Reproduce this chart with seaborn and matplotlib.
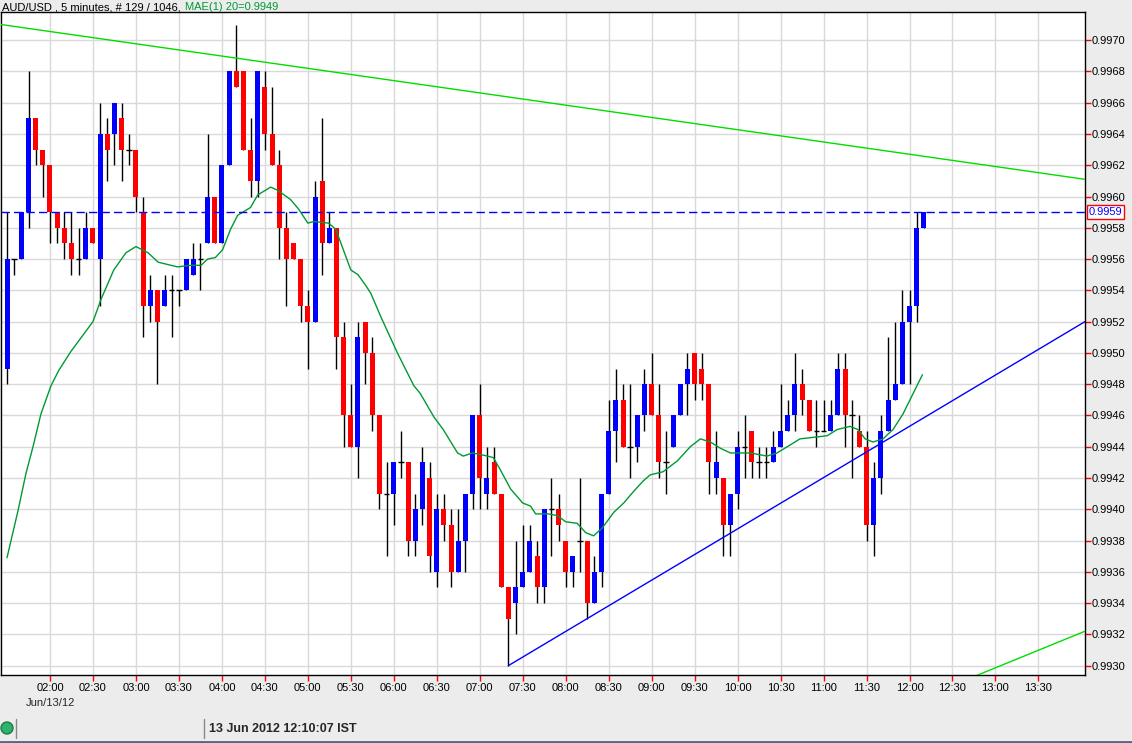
import numpy as np
import matplotlib
matplotlib.use("Agg")
import matplotlib.pyplot as plt
import seaborn as sns
from matplotlib.patches import Circle
from matplotlib.lines import Line2D
from matplotlib.transforms import blended_transform_factory, IdentityTransform

# AUD/USD 5 minute candles, 01:30 .. 12:10 (129 bars)
opens = [.9949, .9956, .9956, .9959, .9965, .9963, .9962, .9959, .9958, .9957,
         .9956, .9956, .9958, .9956, .9964, .9964, .9965, .9963, .9963, .9959,
         .9953, .9954, .9953, .9954, .9954, .9954, .9955, .9956, .9957, .9960,
         .9957, .9962, .9968, .9968, .9963, .9961, .9967, .9964, .9962, .9958,
         .9957, .9956, .9953, .9952, .9961, .9957, .9958, .9951, .9946, .9944,
         .9952, .9950, .9946, .9941, .9941, .9943, .9943, .9938, .9940, .9942,
         .9936, .9940, .9939, .9936, .9938, .9941, .9946, .9941, .9943, .9941,
         .9935, .9934, .9935, .9936, .9937, .9935, .9940, .9940, .9938, .9936,
         .9938, .9938, .9934, .9936, .9941, .9945, .9947, .9944, .9944, .9946,
         .9948, .9946, .9943, .9944, .9946, .9948, .9950, .9949, .9948, .9942,
         .9942, .9939, .9941, .9944, .9945, .9943, .9943, .9943, .9944, .9945,
         .9946, .9948, .9947, .9945, .9945, .9945, .9946, .9949, .9946, .9945,
         .9944, .9939, .9942, .9945, .9947, .9948, .9952, .9953, .9958]
highs = [.9959, .9956, .9959, .9968, .9965, .9963, .9962, .9959, .9959, .9959,
         .9958, .9959, .9958, .9966, .9965, .9966, .9966, .9964, .9963, .9960,
         .9955, .9954, .9955, .9955, .9954, .9956, .9957, .9957, .9964, .9960,
         .9962, .9968, .9971, .9968, .9965, .9968, .9968, .9967, .9963, .9959,
         .9957, .9956, .9954, .9961, .9965, .9959, .9958, .9952, .9948, .9952,
         .9952, .9951, .9946, .9943, .9943, .9945, .9943, .9941, .9944, .9943,
         .9941, .9941, .9940, .9940, .9941, .9946, .9948, .9944, .9944, .9941,
         .9935, .9938, .9939, .9939, .9938, .9940, .9942, .9941, .9938, .9937,
         .9942, .9938, .9937, .9941, .9947, .9949, .9948, .9948, .9946, .9949,
         .9950, .9948, .9945, .9946, .9948, .9950, .9950, .9950, .9948, .9945,
         .9942, .9941, .9945, .9946, .9945, .9944, .9944, .9945, .9948, .9947,
         .9950, .9949, .9947, .9947, .9947, .9947, .9950, .9950, .9947, .9946,
         .9945, .9943, .9946, .9951, .9952, .9954, .9954, .9959, .9959]
lows = [.9948, .9955, .9956, .9958, .9962, .9960, .9957, .9957, .9956, .9955,
        .9955, .9956, .9957, .9953, .9961, .9962, .9961, .9962, .9959, .9951,
        .9952, .9948, .9953, .9951, .9953, .9954, .9955, .9954, .9957, .9957,
        .9957, .9962, .9967, .9963, .9960, .9960, .9963, .9962, .9956, .9953,
        .9956, .9952, .9949, .9952, .9955, .9957, .9949, .9944, .9944, .9942,
        .9948, .9945, .9940, .9937, .9939, .9942, .9937, .9937, .9939, .9936,
        .9935, .9938, .9935, .9936, .9936, .9940, .9940, .9940, .9941, .9935,
        .9930, .9932, .9935, .9936, .9934, .9934, .9937, .9938, .9935, .9935,
        .9936, .9933, .9934, .9935, .9941, .9943, .9944, .9942, .9943, .9945,
        .9946, .9942, .9941, .9944, .9946, .9946, .9947, .9947, .9941, .9941,
        .9937, .9937, .9940, .9942, .9942, .9942, .9942, .9943, .9944, .9945,
        .9945, .9946, .9945, .9944, .9945, .9945, .9946, .9944, .9942, .9944,
        .9938, .9937, .9941, .9945, .9947, .9948, .9948, .9952, .9958]
closes = [.9956, .9956, .9959, .9965, .9963, .9962, .9959, .9958, .9957, .9956,
          .9956, .9958, .9957, .9964, .9963, .9966, .9963, .9963, .9960, .9953,
          .9954, .9952, .9954, .9954, .9954, .9956, .9956, .9956, .9960, .9957,
          .9962, .9968, .9967, .9963, .9961, .9968, .9964, .9962, .9958, .9956,
          .9956, .9953, .9952, .9960, .9957, .9958, .9951, .9946, .9944, .9951,
          .9950, .9946, .9941, .9941, .9943, .9943, .9938, .9940, .9943, .9937,
          .9940, .9939, .9936, .9938, .9941, .9946, .9942, .9942, .9941, .9935,
          .9933, .9935, .9936, .9938, .9935, .9940, .9940, .9939, .9936, .9937,
          .9938, .9934, .9936, .9941, .9945, .9947, .9944, .9944, .9946, .9948,
          .9946, .9943, .9943, .9946, .9948, .9949, .9948, .9948, .9943, .9943,
          .9939, .9941, .9944, .9944, .9943, .9943, .9943, .9944, .9945, .9946,
          .9948, .9947, .9945, .9945, .9945, .9946, .9949, .9946, .9946, .9944,
          .9939, .9942, .9945, .9947, .9948, .9952, .9953, .9958, .9959]

# MAE(1) 20 line (bar position, price)
ma_pos = [0, 0.56, 1.53, 2.65, 3.63, 4.74, 6.14, 7.25, 8.93, 12.0, 13.1, 14.9,
          16.6, 18.0, 19.7, 21.1, 23.8, 25.7, 27.1, 28.0, 29.1, 30.1, 31.2,
          32.2, 34.0, 35.0, 36.8, 37.8, 39.6, 40.7, 42.0, 42.8, 44.9, 45.9,
          48.0, 49.0, 50.1, 50.8, 52.2, 54.5, 56.8, 57.7, 59.6, 60.9, 62.9,
          63.7, 65.0, 67.1, 67.9, 68.9, 70.3, 72.0, 73.1, 73.8, 75.6, 76.8,
          78.0, 79.6, 80.8, 81.9, 83.1, 84.7, 86.1, 87.4, 88.8, 89.8, 91.6,
          93.6, 95.4, 96.8, 98.2, 99.6, 101.0, 103.8, 106.1, 107.5, 109.3,
          110.7, 112.6, 114.5, 115.9, 117.7, 118.8, 119.8, 120.9, 122.3,
          123.7, 125.1, 126.5, 127.8]
ma_val = [.99369, .99380, .99399, .99423, .99440, .99461, .99479, .99489,
          .99501, .99520, .99534, .99553, .99564, .99568, .99564, .99558,
          .99555, .99556, .99556, .99560, .99561, .99566, .99579, .99588,
          .99593, .99601, .99606, .99604, .99598, .99592, .99583, .99584,
          .99583, .99579, .99553, .99550, .99543, .99538, .99523, .99500,
          .99479, .99474, .99459, .99451, .99436, .99434, .99436, .99434,
          .99433, .99425, .99413, .99404, .99402, .99397, .99397, .99396,
          .99392, .99391, .99385, .99383, .99388, .99398, .99404, .99411,
          .99418, .99422, .99424, .99431, .99440, .99445, .99443, .99439,
          .99436, .99436, .99434, .99436, .99441, .99445, .99446, .99447,
          .99451, .99453, .99451, .99445, .99443, .99445, .99451, .99461,
          .99474, .99486]

# trend lines (bar position, price)
upper_pos = [-0.84, 150.5]
upper_val = [0.99710, 0.99611]
lower_pos = [135.0, 150.5]
lower_val = [0.99293, 0.99322]
support_pos = [70, 150.5]
support_val = [0.99300, 0.99520]

last_price = 0.9959
time_labels = ["02:00", "02:30", "03:00", "03:30", "04:00", "04:30", "05:00",
               "05:30", "06:00", "06:30", "07:00", "07:30", "08:00", "08:30",
               "09:00", "09:30", "10:00", "10:30", "11:00", "11:30", "12:00",
               "12:30", "13:00", "13:30"]
price_ticks = [0.9930, 0.9932, 0.9934, 0.9936, 0.9938, 0.9940, 0.9942, 0.9944,
               0.9946, 0.9948, 0.9950, 0.9952, 0.9954, 0.9956, 0.9958, 0.9960,
               0.9962, 0.9964, 0.9966, 0.9968, 0.9970]

sns.set_style("white")
plt.rcParams['font.family'] = ['Liberation Sans', 'DejaVu Sans']
FS = 8

o = np.array(opens); h = np.array(highs); l = np.array(lows); c = np.array(closes)
idx = np.arange(len(o))
up = c > o + 1e-7
down = c < o - 1e-7
doji = ~(up | down)

W, H = 1132, 743
fig = plt.figure(figsize=(W / 100, H / 100), dpi=100, facecolor='#ececec')
ax = fig.add_axes([1 / W, 68 / H, 1084 / W, 663 / H])
ax.set_facecolor('white')

ax.set_xlim(-0.84, 150.5)
ax.set_ylim(0.99294, 0.99718)
ax.set_yticks(price_ticks)
ax.set_xticks([6 * (i + 1) for i in range(len(time_labels))])
ax.set_xticklabels(time_labels)
ax.grid(True, color='#d9d9d9', lw=1, zorder=0)
ax.set_axisbelow(True)

# wicks then bodies
ax.vlines(idx, l, h, color='black', lw=1, zorder=2)
ax.bar(idx[up], (c - o)[up], bottom=o[up], width=0.7, color='#0000ff', lw=0, zorder=3)
ax.bar(idx[down], (o - c)[down], bottom=c[down], width=0.7, color='#ff0000', lw=0, zorder=3)
ax.hlines(c[doji], idx[doji] - 0.38, idx[doji] + 0.38, color='black', lw=1, zorder=3)

sns.lineplot(x=ma_pos, y=ma_val, ax=ax, color='#009933', lw=1, sort=False,
             estimator=None, zorder=4)
ax.plot(upper_pos, upper_val, color='#00dd00', lw=1, zorder=4)
ax.plot(lower_pos, lower_val, color='#00dd00', lw=1, zorder=4)
ax.plot(support_pos, support_val, color='#0000ff', lw=1, zorder=4)
ax.axhline(last_price, color='#0000ff', lw=1, ls=(0, (6, 3)), zorder=4)

for s in ax.spines.values():
    s.set_visible(True)
    s.set_color('black')
    s.set_linewidth(1)

ax.yaxis.tick_right()
ax.yaxis.set_major_formatter(matplotlib.ticker.FormatStrFormatter('%.4f'))
ax.tick_params(axis='y', colors='red', labelcolor='black', length=4, width=1,
               pad=1, labelsize=FS, direction='out', right=True, left=False)
ax.tick_params(axis='x', colors='red', labelcolor='black', length=4, width=1,
               pad=2, labelsize=FS, direction='out', bottom=True)

# current price box
tr = blended_transform_factory(ax.transAxes, ax.transData)
ax.text(1 + 4 / 1084, last_price, "0.9959", transform=tr, color='#0000ff',
        fontsize=FS, va='center', ha='left', clip_on=False, zorder=6,
        bbox=dict(boxstyle='square,pad=0.15', fc='white', ec='red', lw=1))

# header: black part, then green indicator text right after it
head = fig.text(2 / W, 1 - 7 / H, "AUD/USD , 5 minutes, # 129 / 1046,",
                fontsize=FS, va='center', ha='left', color='black')
fig.canvas.draw()
bb = head.get_window_extent()
fig.text((bb.x1 + 4) / W, 1 - 7 / H, "MAE(1) 20=0.9949", fontsize=FS,
         va='center', ha='left', color='#009933')
fig.text(26 / W, 1 - 703 / H, "Jun/13/12", fontsize=FS, va='center', ha='left')

# status bar
fig.add_artist(Circle((7, 15), 6, transform=IdentityTransform(),
                      fc='#2db36b', ec='#1d7a47', lw=1))
for xs in (15.5, 203.5):
    fig.add_artist(Line2D([xs / W, xs / W], [5 / H, 24 / H], color='#888888', lw=1))
fig.add_artist(Line2D([0, 1], [1 / H, 1 / H], color='#56657d', lw=2))
fig.text(209 / W, 14 / H, "13 Jun 2012 12:10:07 IST", fontsize=9,
         fontweight='bold', va='center', ha='left')

fig.savefig('out.png', dpi=100, facecolor=fig.get_facecolor())
